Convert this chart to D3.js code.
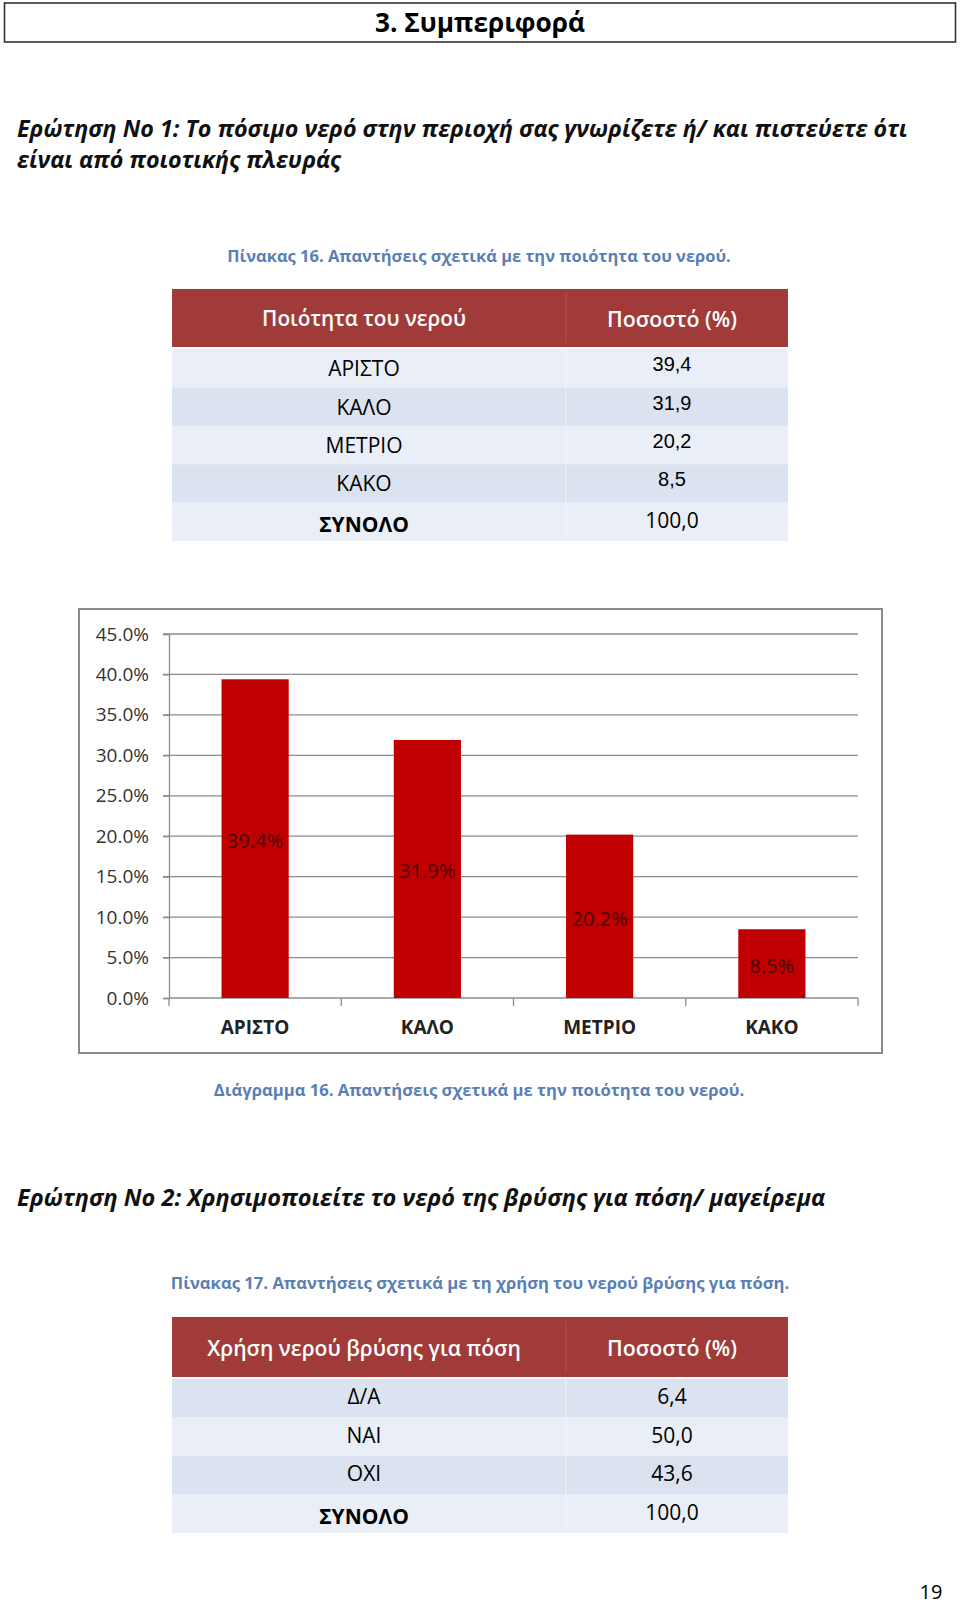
<!DOCTYPE html>
<html><head><meta charset="utf-8">
<script src="https://cdn.jsdelivr.net/npm/d3@7"></script>
<style>body{margin:0;background:#fff}</style>
</head><body><svg id="page" width="960" height="1607"></svg>
<script>
// ---------- data ----------
const pageTitle = "3. Συμπεριφορά";
const question1 = ["Ερώτηση Νο 1: Το πόσιμο νερό στην περιοχή σας γνωρίζετε ή/ και πιστεύετε ότι", "είναι από ποιοτικής πλευράς"];
const table16Caption = "Πίνακας 16. Απαντήσεις σχετικά με την ποιότητα του νερού.";
const table16Headers = ["Ποιότητα του νερού", "Ποσοστό (%)"];
const qualityCategories = ["ΑΡΙΣΤΟ", "ΚΑΛΟ", "ΜΕΤΡΙΟ", "ΚΑΚΟ"];
const qualityValues = [39.4, 31.9, 20.2, 8.5];
const table16Values = ["39,4", "31,9", "20,2", "8,5"];
const totalLabel = "ΣΥΝΟΛΟ";
const totalValue = "100,0";
const yTicks = [0, 5, 10, 15, 20, 25, 30, 35, 40, 45];
const chartCaption = "Διάγραμμα 16. Απαντήσεις σχετικά με την ποιότητα του νερού.";
const question2 = "Ερώτηση Νο 2: Χρησιμοποιείτε το νερό της βρύσης για πόση/ μαγείρεμα";
const table17Caption = "Πίνακας 17. Απαντήσεις σχετικά με τη χρήση του νερού βρύσης για πόση.";
const table17Headers = ["Χρήση νερού βρύσης για πόση", "Ποσοστό (%)"];
const drinkCategories = ["Δ/Α", "ΝΑΙ", "ΟΧΙ"];
const drinkValues = ["6,4", "50,0", "43,6"];
const pageNumber = "19";

// ---------- helpers ----------
const svg = d3.select("#page");
svg.append("rect").attr("width", 960).attr("height", 1607).attr("fill", "#fff");
const SANS = "'Open Sans', 'Noto Sans', sans-serif";
const ARIAL = "'Liberation Sans', Arial, sans-serif";

function txt(g, s, x, y, o = {}) {
  const t = g.append("text").text(s)
    .attr("x", x).attr("y", y)
    .attr("font-family", o.family || SANS)
    .attr("font-size", o.size || 16)
    .attr("font-weight", o.weight || "normal")
    .attr("font-style", o.style || "normal")
    .attr("fill", o.fill || "#000")
    .attr("text-anchor", o.anchor || "middle")
    .attr("dominant-baseline", "central");
  if (o.fit) {
    const w = t.node().getComputedTextLength();
    const ns = (o.size || 16) * o.fit / w;
    t.attr("font-size", Math.min(ns, o.max || 99));
  }
  return t;
}

// ---------- page title ----------
svg.append("rect").attr("x", 4.5).attr("y", 3).attr("width", 951).attr("height", 39)
  .attr("fill", "none").attr("stroke", "#333").attr("stroke-width", 1.6);
txt(svg, pageTitle, 480, 22, {size: 24, weight: "bold", fit: 210});

// ---------- question 1 ----------
txt(svg, question1[0], 17, 128, {size: 20, weight: "bold", style: "italic", anchor: "start", fit: 891, fill: "#111"});
txt(svg, question1[1], 17, 159, {size: 20, weight: "bold", style: "italic", anchor: "start", fit: 324, fill: "#111"});

// ---------- generic table ----------
const CAPBLUE = "#5a7fb5";
function drawTable(cfg) {
  const g = svg.append("g");
  txt(g, cfg.caption, cfg.capX, cfg.capY, {size: 16, weight: "bold", fill: CAPBLUE, fit: cfg.capW});
  const x0 = 172, x1 = 788, colSplit = 566;
  g.append("rect").attr("x", x0).attr("y", cfg.headTop).attr("width", x1 - x0)
    .attr("height", cfg.headBot - cfg.headTop).attr("fill", "#a03b39");
  g.append("line").attr("x1", colSplit).attr("x2", colSplit).attr("y1", cfg.headTop + 4).attr("y2", cfg.headBot - 4)
    .attr("stroke", "#ad5553").attr("stroke-width", 1);
  const hc = (cfg.headTop + cfg.headBot) / 2;
  txt(g, cfg.headers[0], 364, hc, {size: 19, fill: "#fff", weight: 600, fit: cfg.h0W});
  txt(g, cfg.headers[1], 672, hc, {size: 19, fill: "#fff", weight: 600, fit: 130});

  const rows = cfg.labels.map((l, i) => ({label: l, value: cfg.values[i], total: false}))
    .concat([{label: totalLabel, value: totalValue, total: true}]);
  const ry = d3.scaleBand().domain(d3.range(rows.length)).range([cfg.headBot + 2, cfg.rowsBot]);
  const rg = g.selectAll("g.row").data(rows).join("g").attr("class", "row");
  rg.append("rect").attr("x", x0).attr("width", x1 - x0)
    .attr("y", (d, i) => ry(i)).attr("height", ry.bandwidth())
    .attr("fill", (d, i) => (i % 2 === cfg.darkParity) ? "#dae3ef" : "#eaeff7");
  rg.append("line").attr("x1", colSplit).attr("x2", colSplit)
    .attr("y1", (d, i) => ry(i)).attr("y2", (d, i) => ry(i) + ry.bandwidth())
    .attr("stroke", "#f2f5fa").attr("stroke-width", 1);
  rg.each(function (d, i) {
    const sel = d3.select(this);
    const cy = ry(i) + ry.bandwidth() / 2;
    if (d.total) {
      txt(sel, d.label, 364, cy + 2, {size: 21, weight: "bold", fill: "#000"});
      txt(sel, d.value, 672, cy - 2, {size: 21, fill: "#000"});
    } else {
      txt(sel, d.label, 364, cy + cfg.labelDy, {size: 21, fill: "#000"});
      txt(sel, d.value, 672, cy + cfg.valueDy, {size: cfg.valueSize, fill: "#000", family: cfg.valueFamily});
    }
  });
  return g;
}

drawTable({
  caption: table16Caption, capX: 479, capY: 255, capW: 504,
  headers: table16Headers, h0W: 204,
  headTop: 289, headBot: 347, rowsBot: 541,
  labels: qualityCategories, values: table16Values,
  darkParity: 1, labelDy: 0, valueDy: -4, valueSize: 20, valueFamily: ARIAL
});

// ---------- chart ----------
const chart = svg.append("g");
chart.append("rect").attr("x", 79).attr("y", 609).attr("width", 803).attr("height", 444)
  .attr("fill", "#fff").attr("stroke", "#8a8a8a").attr("stroke-width", 2);

const y = d3.scaleLinear().domain([0, 45]).range([998, 634]);
const x = d3.scaleBand().domain(qualityCategories).range([169, 858]).paddingInner(0.61).paddingOuter(0.305);
const GRID = "#8c8c8c";

// gridlines
chart.append("g").selectAll("line").data(yTicks.filter(d => d > 0)).join("line")
  .attr("x1", 163).attr("x2", 858).attr("y1", d => y(d)).attr("y2", d => y(d))
  .attr("stroke", GRID).attr("stroke-width", 1.3);

// y axis
const yAxis = chart.append("g").attr("transform", "translate(169,0)")
  .call(d3.axisLeft(y).tickValues(yTicks).tickSize(6).tickPadding(14).tickFormat(d => d.toFixed(1) + "%"));
yAxis.select(".domain").attr("stroke", GRID).attr("stroke-width", 1.3);
yAxis.selectAll(".tick line").attr("stroke", GRID).attr("stroke-width", 1.3);
yAxis.selectAll(".tick text").attr("font-family", SANS).attr("font-size", 19).attr("fill", "#333");

// x axis
const xAxisG = chart.append("g");
xAxisG.append("line").attr("x1", 169).attr("x2", 858).attr("y1", y(0)).attr("y2", y(0))
  .attr("stroke", GRID).attr("stroke-width", 1.3);
const bounds = qualityCategories.map(c => x(c) - x.step() * x.paddingInner() / 2).concat([858]);
xAxisG.selectAll("line.bt").data(bounds).join("line").attr("class", "bt")
  .attr("x1", d => d).attr("x2", d => d).attr("y1", y(0)).attr("y2", y(0) + 8)
  .attr("stroke", GRID).attr("stroke-width", 1.3);
xAxisG.selectAll("text").data(qualityCategories).join("text")
  .attr("x", d => x(d) + x.bandwidth() / 2).attr("y", 1027)
  .attr("text-anchor", "middle").attr("dominant-baseline", "central")
  .attr("font-family", SANS).attr("font-weight", "bold").attr("font-size", 19).attr("fill", "#222")
  .text(d => d);

// bars
const data = qualityCategories.map((c, i) => ({c, v: qualityValues[i]}));
chart.append("g").selectAll("rect").data(data).join("rect")
  .attr("x", d => x(d.c)).attr("width", x.bandwidth())
  .attr("y", d => y(d.v)).attr("height", d => y(0) - y(d.v))
  .attr("fill", "#c00000");
chart.append("g").selectAll("text").data(data).join("text")
  .attr("x", d => x(d.c) + x.bandwidth() / 2)
  .attr("y", d => (y(d.v) + y(0)) / 2 + 2)
  .attr("text-anchor", "middle").attr("dominant-baseline", "central")
  .attr("font-family", SANS).attr("font-size", 20).attr("fill", "#4a0606")
  .text(d => d.v.toFixed(1) + "%");

txt(svg, chartCaption, 479, 1089, {size: 16, weight: "bold", fill: CAPBLUE, fit: 531});

// ---------- question 2 ----------
txt(svg, question2, 17, 1197, {size: 20, weight: "bold", style: "italic", anchor: "start", fit: 809, fill: "#111"});

drawTable({
  caption: table17Caption, capX: 480, capY: 1282, capW: 619,
  headers: table17Headers, h0W: 314,
  headTop: 1317, headBot: 1377, rowsBot: 1533,
  labels: drinkCategories, values: drinkValues,
  darkParity: 0, labelDy: -2, valueDy: -2, valueSize: 21, valueFamily: SANS
});

// ---------- page number ----------
txt(svg, pageNumber, 931, 1591, {size: 20, fill: "#000"});
</script>
</body></html>
